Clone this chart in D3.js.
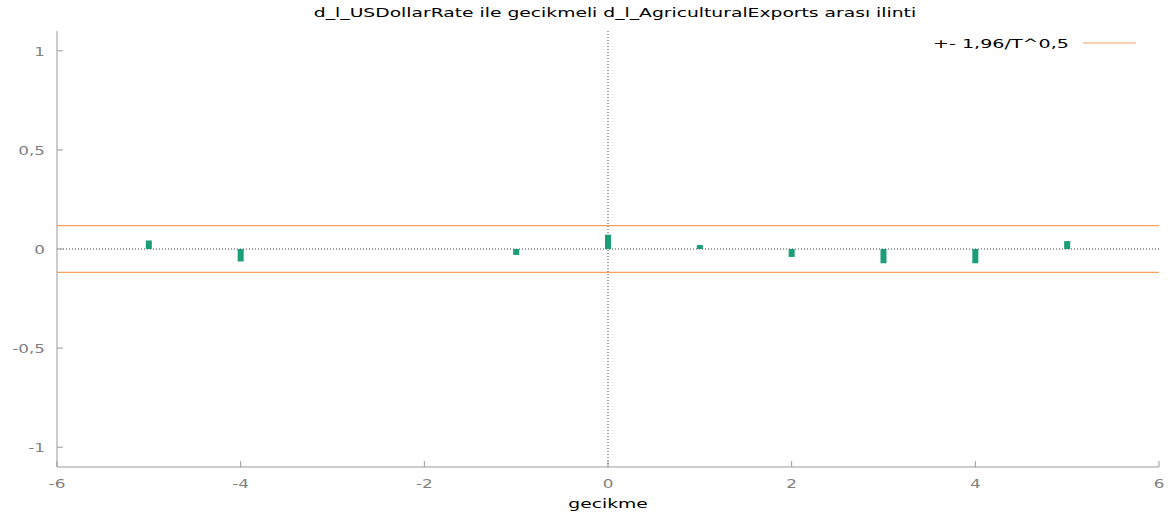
<!DOCTYPE html>
<html>
<head>
<meta charset="utf-8">
<script src="https://cdnjs.cloudflare.com/ajax/libs/d3/7.8.5/d3.min.js"></script>
<style>
body{margin:0;background:#fff;}
text{font-family:"DejaVu Sans",Verdana,sans-serif;}
</style>
</head>
<body>
<svg id="s"></svg>
<script>
var lags = [-5, -4, -3, -2, -1, 0, 1, 2, 3, 4, 5];
var corr = [0.043, -0.063, 0, 0, -0.03, 0.072, 0.02, -0.04, -0.072, -0.072, 0.04];
var band = 0.118;
var xTicks = [-6, -4, -2, 0, 2, 4, 6];
var yTicks = [-1, -0.5, 0, 0.5, 1];

var W = 1171, H = 514;
var s = d3.select('#s').attr('width', W).attr('height', H);

var x = d3.scaleLinear().domain([-6, 6]).range([57, 1159]);
var y = d3.scaleLinear().domain([-1.1, 1.1]).range([467, 31]);
var fmt = function(v){ return String(v).replace('.', ','); };

// widen text like the original renderer does
function stretch(sel, f){
  sel.each(function(){
    var w = this.getComputedTextLength();
    d3.select(this).attr('textLength', w * f).attr('lengthAdjust', 'spacingAndGlyphs');
  });
}

// zero lines
s.append('line')
.attr('x1', x(-6)).attr('x2', x(6)).attr('y1', y(0)).attr('y2', y(0))
.attr('stroke', '#444').attr('stroke-width', 1).attr('stroke-dasharray', '1,2');
s.append('line')
.attr('x1', x(0)).attr('x2', x(0)).attr('y1', y(1.1)).attr('y2', y(-1.1))
.attr('stroke', '#444').attr('stroke-width', 1).attr('stroke-dasharray', '1,2');

// bands
[band, -band].forEach(function(b){
  s.append('line')
  .attr('x1', x(-6)).attr('x2', x(6)).attr('y1', y(b)).attr('y2', y(b))
  .attr('stroke', '#f4a060').attr('stroke-width', 1.2);
});

// bars
s.selectAll('rect.bar')
.data(lags.map(function(l, i){ return {l: l, v: corr[i]}; }).filter(function(d){ return d.v !== 0; }))
.enter()
.append('rect')
.attr('class', 'bar')
.attr('fill', '#1b9e77')
.attr('x', function(d){ return x(d.l) - 3; })
.attr('width', 6)
.attr('y', function(d){ return Math.min(y(d.v), y(0)); })
.attr('height', function(d){ return Math.abs(y(d.v) - y(0)); });

// axes lines
s.append('line').attr('x1', x(-6)).attr('x2', x(-6)).attr('y1', y(1.1)).attr('y2', y(-1.1))
.attr('stroke', '#999').attr('stroke-width', 1);
s.append('line').attr('x1', x(-6)).attr('x2', x(6)).attr('y1', y(-1.1)).attr('y2', y(-1.1))
.attr('stroke', '#999').attr('stroke-width', 1);

// y ticks
s.selectAll('line.yt').data(yTicks).enter().append('line')
.attr('x1', x(-6)).attr('x2', x(-6) + 6)
.attr('y1', function(d){ return y(d); }).attr('y2', function(d){ return y(d); })
.attr('stroke', '#999');
s.selectAll('text.yt').data(yTicks).enter().append('text')
.attr('x', 45).attr('y', function(d){ return y(d) + 5; })
.attr('text-anchor', 'end').attr('font-size', 12).attr('fill', '#808080')
.text(function(d){ return fmt(d); })
.call(stretch, 1.4);

// x ticks
s.selectAll('line.xt').data(xTicks).enter().append('line')
.attr('x1', function(d){ return x(d); }).attr('x2', function(d){ return x(d); })
.attr('y1', y(-1.1)).attr('y2', y(-1.1) - 6)
.attr('stroke', '#999');
s.selectAll('text.xt').data(xTicks).enter().append('text')
.attr('x', function(d){ return x(d); }).attr('y', 488)
.attr('text-anchor', 'middle').attr('font-size', 12).attr('fill', '#808080')
.text(function(d){ return fmt(d); })
.call(stretch, 1.4);

// title & label
s.append('text').attr('x', 615).attr('y', 17).attr('text-anchor', 'middle')
.attr('font-size', 13).attr('fill', '#000')
.text('d_l_USDollarRate ile gecikmeli d_l_AgriculturalExports arası ilinti')
.call(stretch, 1.44);
s.append('text').attr('x', 608).attr('y', 508).attr('text-anchor', 'middle')
.attr('font-size', 13).attr('fill', '#000').text('gecikme')
.call(stretch, 1.44);

// legend
s.append('text').attr('x', 1069).attr('y', 48).attr('text-anchor', 'end')
.attr('font-size', 13).attr('fill', '#000').text('+- 1,96/T^0,5')
.call(stretch, 1.47);
s.append('line').attr('x1', 1083).attr('x2', 1136).attr('y1', 43).attr('y2', 43)
.attr('stroke', '#f4a060').attr('stroke-width', 1.2);
</script>
</body>
</html>
